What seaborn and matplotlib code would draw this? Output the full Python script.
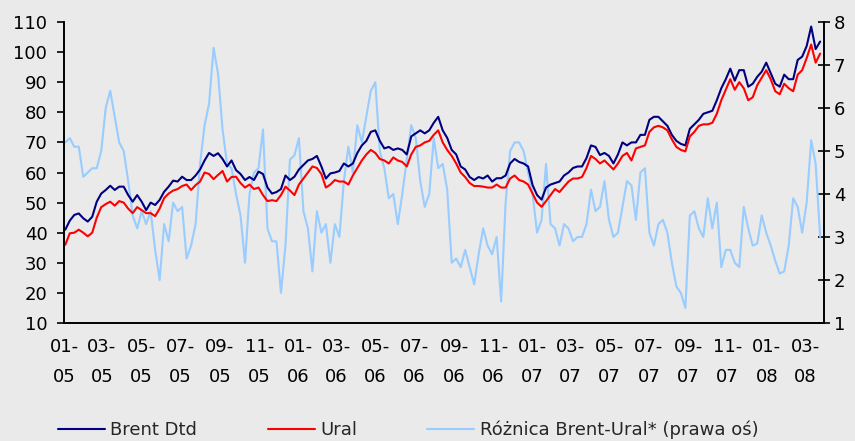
import numpy as np
import pandas as pd
import matplotlib
matplotlib.use("Agg")
import matplotlib.pyplot as plt
import seaborn as sns

# ---- data (weekly readings, starting 2005-01-03) ----
start_date = "2005-01-03"

brent = [
    41, 44, 45.9, 46.4, 44.8, 43.7, 45.3, 50.3, 53, 54.2, 55.6, 54.2, 55.3, 55.3,
    52.5, 50.3, 52.5, 50.3, 47.5, 50, 49.2, 50.9, 53.6, 55.3, 57.3, 57, 58.6, 57.5,
    57.5, 59, 61, 64, 66.5, 65.5, 66.4, 64.5, 62, 64, 60.8, 59.5, 57.5, 58.5,
    57.5, 60.3, 59.5, 55, 53, 53.5, 54.5, 59, 57.5, 58.6, 61, 62.5, 64, 64.5,
    65.5, 62, 58, 59.7, 60, 60.5, 63, 62, 63, 66.5, 69, 70.5, 73.5, 74,
    70.5, 68, 68.5, 67.5, 68, 67.5, 66, 72, 73, 74, 73, 74, 76.5, 78.5,
    74, 71.5, 67.5, 66, 62, 61, 58.5, 57.5, 58.5, 58, 59, 57, 58.1, 58.1,
    59, 63, 64.5, 63.5, 63, 62, 55.8, 52.5, 51, 55, 56, 56.5, 57, 59,
    60, 61.5, 62, 62, 64.8, 69, 68.5, 65.8, 66.5, 65.5, 63, 66, 70, 69,
    70, 70, 72.5, 72.5, 77.5, 78.5, 78.5, 77, 75.5, 72.5, 70.5, 69.5, 69, 74.5,
    76, 77.5, 79.5, 80, 80.5, 84, 88, 91, 94.5, 90.5, 94, 94, 88.5, 89.5,
    91.8, 93.5, 96.5, 93, 89.5, 88.5, 92.5, 91, 91, 97.4, 98.5, 102, 108.5, 101, 103.5,
]

ural = [
    36, 39.8, 40, 41, 40, 38.8, 40, 45, 48.5, 49.5, 50.3, 49, 50.5, 50,
    48, 46.5, 48.5, 47.5, 46.5, 46.5, 45.5, 48, 51.5, 53, 54, 54.5, 55.5, 56,
    54.2, 55.8, 57, 60, 59.5, 57.8, 59.2, 60.5, 57, 58.5, 58.6, 56.5, 55, 56,
    54.5, 55, 52.5, 50.5, 50.8, 50.5, 52.5, 55.3, 54, 52.5, 56, 58, 60, 62,
    61.5, 59.5, 55, 56, 57.5, 57, 57, 56, 59, 61.5, 64, 66, 67.5, 66.5,
    64.5, 64, 63, 65, 64, 63.5, 62, 66, 68.5, 69, 70, 70.5, 72.5, 74,
    70, 67.5, 65.5, 63, 60, 58.5, 56.5, 55.5, 55.5, 55.3, 55, 55, 56, 55,
    55, 58, 59, 57.5, 57, 56, 53, 50, 48.6, 50.5, 52.5, 54.5, 53.5, 55.3,
    57, 58, 58, 58.5, 61.5, 65.5, 64.5, 63, 64, 62.5, 61, 63, 65.5, 66.5,
    64, 68, 68.5, 69, 73.5, 75, 75.5, 75, 74, 71, 68.5, 67.5, 67, 72,
    73.5, 75.5, 76, 76, 76.5, 79.5, 84, 87.5, 91, 87.5, 90, 88, 84, 85,
    89, 91.5, 94, 91, 87, 86, 89.5, 88, 87, 92.5, 94, 98, 102.5, 96.5, 99.5,
]

spread = [
    5.2, 5.3, 5.1, 5.1, 4.4, 4.5, 4.6, 4.6, 5.0, 6.0, 6.4, 5.8, 5.2, 5.0,
    4.3, 3.5, 3.2, 3.6, 3.3, 3.6, 2.7, 2.0, 3.3, 2.9, 3.8, 3.6, 3.7, 2.5,
    2.8, 3.3, 4.7, 5.6, 6.1, 7.4, 6.8, 5.5, 4.7, 4.6, 4.0, 3.5, 2.4, 4.0,
    4.5, 4.6, 5.5, 3.2, 2.9, 2.9, 1.7, 2.8, 4.8, 4.9, 5.3, 3.6, 3.2, 2.2,
    3.6, 3.1, 3.3, 2.4, 3.3, 3.0, 4.3, 5.1, 4.5, 5.6, 5.2, 5.8, 6.4, 6.6,
    5.0, 4.6, 3.9, 4.0, 3.3, 4.0, 4.8, 5.6, 5.3, 4.3, 3.7, 4.0, 5.3, 4.6,
    4.7, 4.1, 2.4, 2.5, 2.3, 2.7, 2.3, 1.9, 2.6, 3.2, 2.8, 2.6, 3.0, 1.5,
    3.8, 5.0, 5.2, 5.2, 5.0, 4.5, 4.0, 3.1, 3.4, 4.7, 3.3, 3.2, 2.8, 3.3,
    3.2, 2.9, 3.0, 3.0, 3.3, 4.1, 3.6, 3.7, 4.3, 3.4, 3.0, 3.1, 3.7, 4.3,
    4.2, 3.4, 4.5, 4.6, 3.1, 2.8, 3.3, 3.4, 3.1, 2.4, 1.85, 1.7, 1.35, 3.5,
    3.6, 3.2, 3.0, 3.9, 3.2, 3.8, 2.3, 2.7, 2.7, 2.4, 2.3, 3.7, 3.2, 2.8,
    2.85, 3.5, 3.1, 2.8, 2.45, 2.15, 2.2, 2.8, 3.9, 3.7, 3.1, 3.8, 5.25, 4.7, 3.0,
]

series_labels = ["Brent Dtd", "Ural", "Różnica Brent-Ural* (prawa oś)"]
left_ticks = [10, 20, 30, 40, 50, 60, 70, 80, 90, 100, 110]
right_ticks = [1, 2, 3, 4, 5, 6, 7, 8]
tick_dates = pd.date_range("2005-01-01", "2008-03-01", freq="2MS")
tick_labels = [d.strftime("%m-\n%y") for d in tick_dates]

# ---- styling ----
BG = "#EAEAEA"
NAVY = "#000080"
RED = "#FF0000"
LBLUE = "#99CCFF"

dates = pd.date_range(start_date, periods=len(brent), freq="7D")
df = pd.DataFrame({"date": dates, "brent": brent, "ural": ural, "spread": spread})

sns.set_style("white")
plt.rcParams["font.family"] = ["DejaVu Sans"]
plt.rcParams["axes.facecolor"] = BG

fig = plt.figure(figsize=(8.55, 4.41), dpi=100, facecolor=BG)
ax = fig.add_axes([64 / 855, 1 - 323 / 441, (824 - 64) / 855, (323 - 22) / 441])
ax.set_facecolor(BG)
ax2 = ax.twinx()

sns.lineplot(data=df, x="date", y="spread", ax=ax2, color=LBLUE, lw=1.5,
             label=series_labels[2], legend=False)
sns.lineplot(data=df, x="date", y="brent", ax=ax, color=NAVY, lw=1.5,
             label=series_labels[0], legend=False)
sns.lineplot(data=df, x="date", y="ural", ax=ax, color=RED, lw=1.5,
             label=series_labels[1], legend=False)

# keep the main series above the secondary one
ax.set_zorder(ax2.get_zorder() + 1)
ax.patch.set_visible(False)
ax2.patch.set_visible(True)
ax2.patch.set_facecolor(BG)

ax.set_xlim(pd.Timestamp("2005-01-01"), pd.Timestamp("2008-03-30"))
ax.set_ylim(10, 110)
ax2.set_ylim(1, 8)
ax.set_yticks(left_ticks)
ax2.set_yticks(right_ticks)
ax.set_xticks(tick_dates)
ax.set_xticklabels(tick_labels, linespacing=1.9)
ax.set_xlabel("")
ax.set_ylabel("")
ax2.set_ylabel("")

for a in (ax, ax2):
    a.spines["top"].set_visible(False)
    for s in ("left", "right", "bottom"):
        a.spines[s].set_color("black")
        a.spines[s].set_linewidth(1.2)
    a.grid(False)

ax.tick_params(axis="y", direction="out", length=5, width=1.2, labelsize=13, pad=7,
               colors="black")
ax.tick_params(axis="x", direction="out", length=4.5, width=1.2, labelsize=13, pad=6,
               colors="black")
ax2.tick_params(axis="y", direction="inout", length=8, width=1.2, labelsize=13, pad=3,
                colors="black")
for lab in ax.get_xticklabels():
    lab.set_horizontalalignment("center")

h1, l1 = ax.get_legend_handles_labels()
h2, l2 = ax2.get_legend_handles_labels()
leg = fig.legend(h1 + h2, l1 + l2, loc="center left",
                 bbox_to_anchor=(58 / 855, 1 - 430 / 441), ncol=3, frameon=False,
                 fontsize=13, handlelength=2.6, handletextpad=0.3,
                 columnspacing=3.9, borderpad=0, borderaxespad=0)
for line in leg.get_lines():
    line.set_linewidth(1.5)

fig.savefig("out.png", dpi=100, facecolor=BG)
